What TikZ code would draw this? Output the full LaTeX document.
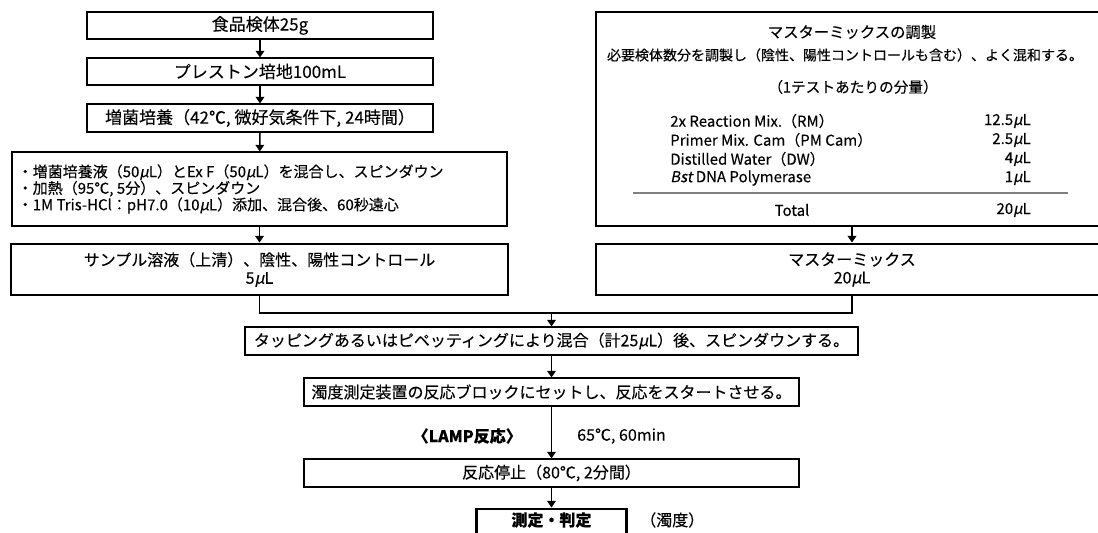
\documentclass[tikz,border=0pt]{standalone}
\usepackage{fontspec}
\setmainfont{Noto Sans CJK JP}[FakeBold=0.2]
\newfontfamily\itf{Noto Sans CJK JP}[FakeSlant=0.2,FakeBold=0.2]
\usetikzlibrary{arrows.meta}
\newdimen\pxu \pxu=0.75pt
\newcommand{\uL}{{\itf μ}L}
\begin{document}
\begin{tikzpicture}[x=0.75pt,y=-0.75pt,
  every node/.style={inner sep=0pt},
  lf/.style={font=\fontsize{12}{13.5}\selectfont},
  tf/.style={font=\fontsize{12.75}{14}\selectfont},
  rf/.style={font=\fontsize{11.25}{13}\selectfont},
  tbox/.style={draw, line width=0.8pt, align=center, lf},
  kbox/.style={draw, line width=2.2pt, align=center, lf},
  conn/.style={line width=1.1pt},
  arr/.style={conn, -{Triangle[width=6.5pt,length=5pt]}},
]
\useasboundingbox (0,0) rectangle (1098,532);
\clip (0,0) rectangle (1098,532);
% left column
\node[tbox, tf, minimum width=346\pxu, minimum height=27\pxu] (b1) at (260,25.5) {食品検体25g};
\node[tbox, tf, minimum width=346\pxu, minimum height=27\pxu] (b2) at (260,71.5) {プレストン培地100mL};
\node[tbox, tf, minimum width=346\pxu, minimum height=28\pxu] (b3) at (260,118) {増菌培養（42℃, 微好気条件下, 24時間）};
\node[tbox, minimum width=495\pxu, minimum height=74\pxu] (b4) at (259.5,189) {};
\node[anchor=west, align=left, font=\fontsize{11.25}{12.4}\selectfont] (b4t) at ([xshift=6\pxu]b4.west)
  {・増菌培養液（50\uL）とEx F（50\uL）を混合し、スピンダウン\\
   ・加熱（95℃, 5分）、スピンダウン\\
   ・1M Tris-HCl：pH7.0（10\uL）添加、混合後、60秒遠心};
\node[kbox, minimum width=497\pxu, minimum height=51\pxu] (b5) at (259.5,269.5)
  {サンプル溶液（上清）、陰性、陽性コントロール\\5\uL};
% right column
\node[draw, line width=0.8pt, minimum width=512\pxu, minimum height=214\pxu] (mix) at (852,119) {};
\node[font=\fontsize{11.5}{13}\selectfont] (t1) at (852,32) {マスターミックスの調製};
\node[font=\fontsize{10.5}{13}\selectfont] (t2) at (845,55) {必要検体数分を調製し（陰性、陽性コントロールも含む）、よく混和する。};
\node[font=\fontsize{11}{13}\selectfont] (t3) at (853,87) {（1テストあたりの分量）};
\node[rf, anchor=west] (r1) at (670,121) {2x Reaction Mix.（RM）};
\node[rf, anchor=west] (r2) at (670,140) {Primer Mix. Cam（PM Cam）};
\node[rf, anchor=west] (r3) at (670,159) {Distilled Water（DW）};
\node[rf, anchor=west] (r4) at (670,178) {{\itf Bst} DNA Polymerase};
\node[rf, anchor=east] (v1) at (1031,121) {12.5\uL};
\node[rf, anchor=east] (v2) at (1031,140) {2.5\uL};
\node[rf, anchor=east] (v3) at (1031,159) {4\uL};
\node[rf, anchor=east] (v4) at (1031,178) {1\uL};
\draw[gray, line width=0.8pt] (633,193) -- (1068,193);
\node[rf] (tot) at (792,210) {Total};
\node[rf, anchor=east] (v5) at (1031,210) {20\uL};
\node[kbox, minimum width=512\pxu, minimum height=51\pxu] (mm) at (852,269.5) {マスターミックス\\20\uL};
% lower chain
\node[tbox, minimum width=613\pxu, minimum height=28\pxu] (tap) at (551.5,341) {タッピングあるいはピペッティングにより混合（計25\uL）後、スピンダウンする。};
\node[tbox, minimum width=495\pxu, minimum height=28\pxu] (tur) at (551.5,392) {濁度測定装置の反応ブロックにセットし、反応をスタートさせる。};
\node[tbox, minimum width=495\pxu, minimum height=28\pxu] (stop) at (551.5,473) {反応停止（80℃, 2分間）};
\node[kbox, minimum width=150\pxu, minimum height=41\pxu] (fin) at (551.5,529.5) {};
\node[font=\bfseries\fontsize{12}{13.5}\selectfont] (fint) at (551.5,520) {測定・判定};
\node[lf, anchor=west] (fin2) at (640,520) {（濁度）};
\node[anchor=east, font=\bfseries\fontsize{12}{13.5}\selectfont] (lamp) at (522,436) {〈LAMP反応〉};
\node[lf, anchor=west] (cond) at (577,436) {65℃, 60min};
% connectors
\draw[arr] (b1) -- (b2);
\draw[arr] (b2) -- (b3);
\draw[arr] (b3) -- (b4);
\draw[arr] (b4) -- (b5);
\draw[arr] (mix.south) -- (mm.north);
\coordinate (j) at (551.5,313);
\draw[conn] (b5.south) |- (j) -| (mm.south);
\draw[arr] (j) -- (tap.north);
\draw[arr] (tap) -- (tur);
\draw[arr] (tur) -- (stop);
\draw[arr] (stop) -- (fin);
\end{tikzpicture}
\end{document}
